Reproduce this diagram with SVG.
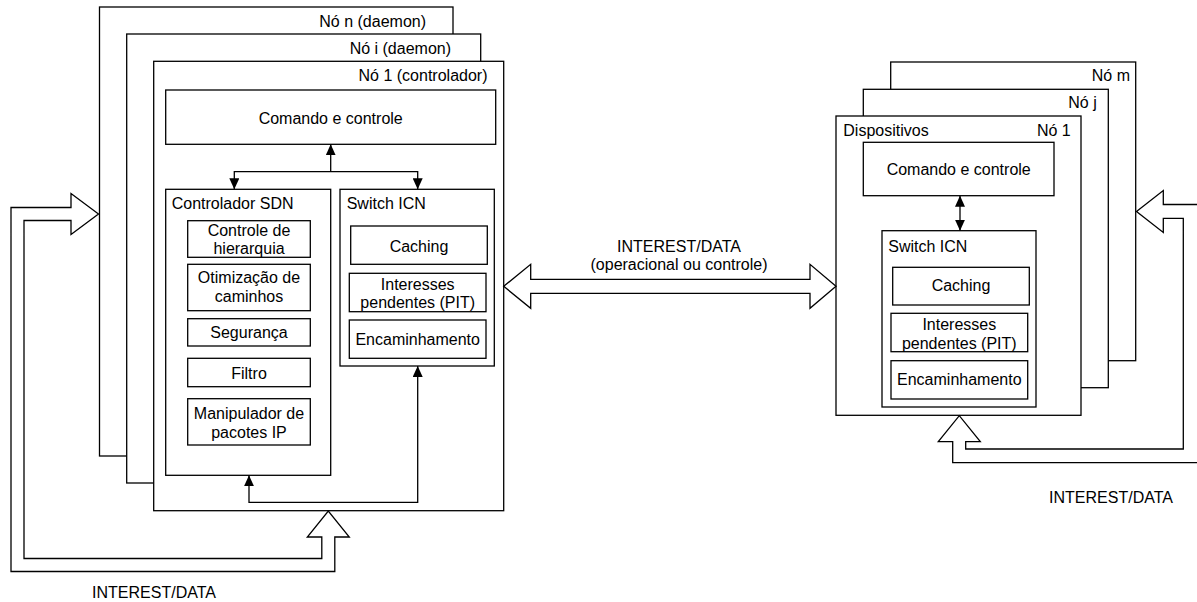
<svg xmlns="http://www.w3.org/2000/svg" width="1197" height="602" viewBox="0 0 1197 602">
<style>
.b{fill:#fff;stroke:#000;stroke-width:1.3}
.t{font-family:"Liberation Sans",Arial,sans-serif;font-size:16px;fill:#000}
.c{text-anchor:middle}
.e{text-anchor:end}
.l{fill:none;stroke:#000;stroke-width:1.3}
.f{fill:#fff;stroke:#000;stroke-width:1.3;stroke-linejoin:miter}
</style>
<defs>
<marker id="ah" markerUnits="userSpaceOnUse" viewBox="0 0 11 10" markerWidth="11" markerHeight="10" refX="11" refY="5" orient="auto-start-reverse">
<path d="M0,0 L11,5 L0,10 Z" fill="#000"/>
</marker>
</defs>
<rect width="1197" height="602" fill="#fff"/>

<g id="left-node-n">
<rect class="b" x="99.5" y="7" width="353.5" height="449"/>
<text class="t e" x="426" y="26.5">Nó n (daemon)</text>
</g>
<g id="left-node-i">
<rect class="b" x="126.7" y="34" width="354" height="449"/>
<text class="t e" x="451" y="54">Nó i (daemon)</text>
</g>
<g id="left-node-1">
<rect class="b" x="153.7" y="61.3" width="350" height="449.4"/>
<text class="t e" x="487.5" y="81">Nó 1 (controlador)</text>
</g>
<g id="left-comando">
<rect class="b" x="165.7" y="90" width="330" height="54.3"/>
<text class="t c" x="330.7" y="123.5">Comando e controle</text>
</g>
<g id="left-sdn">
<rect class="b" x="165.7" y="189.3" width="165" height="286"/>
<text class="t" x="171.7" y="209.3">Controlador SDN</text>
</g>
<g id="left-sdn-hierarquia">
<rect class="b" x="187.7" y="220.7" width="122.6" height="36.6"/>
<text class="t c" x="249" y="236">Controle de</text>
<text class="t c" x="249" y="253.5">hierarquia</text>
</g>
<g id="left-sdn-otimizacao">
<rect class="b" x="187.7" y="264.3" width="122.6" height="46.4"/>
<text class="t c" x="249" y="283.3">Otimização de</text>
<text class="t c" x="249" y="301.7">caminhos</text>
</g>
<g id="left-sdn-seguranca">
<rect class="b" x="187.7" y="318.7" width="122.6" height="27.3"/>
<text class="t c" x="249" y="338">Segurança</text>
</g>
<g id="left-sdn-filtro">
<rect class="b" x="187.7" y="358.3" width="122.6" height="28.4"/>
<text class="t c" x="249" y="378.5">Filtro</text>
</g>
<g id="left-sdn-manipulador">
<rect class="b" x="187.7" y="398.7" width="122.6" height="46.3"/>
<text class="t c" x="249" y="418.7">Manipulador de</text>
<text class="t c" x="249" y="437.5">pacotes IP</text>
</g>
<g id="left-switch">
<rect class="b" x="340" y="189.3" width="154.3" height="176.7"/>
<text class="t" x="346.7" y="209.3">Switch ICN</text>
</g>
<g id="left-switch-caching">
<rect class="b" x="350.7" y="226" width="136.6" height="38.3"/>
<text class="t c" x="419" y="251.5">Caching</text>
</g>
<g id="left-switch-pit">
<rect class="b" x="349.3" y="273.3" width="136.7" height="38.4"/>
<text class="t c" x="417.7" y="290">Interesses</text>
<text class="t c" x="417.7" y="308">pendentes (PIT)</text>
</g>
<g id="left-switch-encaminhamento">
<rect class="b" x="349.3" y="320" width="136.7" height="38.3"/>
<text class="t c" x="417.7" y="345">Encaminhamento</text>
</g>

<g id="right-node-m">
<rect class="b" x="890.7" y="62" width="245" height="298.7"/>
<text class="t e" x="1130" y="80.7">Nó m</text>
</g>
<g id="right-node-j">
<rect class="b" x="863.3" y="89.3" width="245" height="298.4"/>
<text class="t e" x="1096.7" y="108.3">Nó j</text>
</g>
<g id="right-node-1">
<rect class="b" x="836" y="116" width="245" height="299.3"/>
<text class="t" x="843.3" y="135.5">Dispositivos</text>
<text class="t e" x="1070.7" y="135.5">Nó 1</text>
</g>
<g id="right-comando">
<rect class="b" x="863.3" y="142.3" width="190.7" height="53.4"/>
<text class="t c" x="958.7" y="175">Comando e controle</text>
</g>
<g id="right-switch">
<rect class="b" x="882" y="230.7" width="154" height="176.3"/>
<text class="t" x="888.3" y="252">Switch ICN</text>
</g>
<g id="right-switch-caching">
<rect class="b" x="892.7" y="267.3" width="136.6" height="37.7"/>
<text class="t c" x="961" y="290.5">Caching</text>
</g>
<g id="right-switch-pit">
<rect class="b" x="891" y="313.3" width="136.7" height="38.4"/>
<text class="t c" x="959.3" y="330">Interesses</text>
<text class="t c" x="959.3" y="348.5">pendentes (PIT)</text>
</g>
<g id="right-switch-encaminhamento">
<rect class="b" x="891" y="360.7" width="136.7" height="38.3"/>
<text class="t c" x="959.3" y="385">Encaminhamento</text>
</g>

<g id="connectors">
<path class="l" d="M330.7,171.7 L330.7,144.3" marker-end="url(#ah)"/>
<path class="l" d="M234.3,189.3 L234.3,171.7 L417.7,171.7 L417.7,189.3" marker-start="url(#ah)" marker-end="url(#ah)"/>
<path class="l" d="M249,475.3 L249,502.3 L417.7,502.3 L417.7,366" marker-start="url(#ah)" marker-end="url(#ah)"/>
<path class="l" d="M960,195.7 L960,230.7" marker-start="url(#ah)" marker-end="url(#ah)"/>
<path class="f" d="M98.5,214 L71,193.5 L71,207.5 L11,207.5 L11,571.5 L334.8,571.5 L334.8,537 L349.3,537 L328.3,511 L307.3,537 L321.8,537 L321.8,558.5 L24,558.5 L24,220.5 L71,220.5 L71,234.5 Z"/>
<path class="f" d="M503.7,286.3 L530.7,264.3 L530.7,279.3 L810,279.3 L810,264.3 L836,286.3 L810,308.3 L810,293.3 L530.7,293.3 L530.7,308.3 Z"/>
<path class="f" d="M1136.5,211.5 L1163.3,190.5 L1163.3,204.5 L1198,204.5 L1198,462.7 L952.7,462.7 L952.7,441.7 L938.3,441.7 L959.3,415.7 L980.3,441.7 L965.7,441.7 L965.7,449 L1183.3,449 L1183.3,218.3 L1163.3,218.3 L1163.3,232.5 Z"/>
<text class="t c" x="679" y="251.7">INTEREST/DATA</text>
<text class="t c" x="679" y="269.5">(operacional ou controle)</text>
<text class="t c" x="154" y="597.5">INTEREST/DATA</text>
<text class="t c" x="1111" y="503">INTEREST/DATA</text>
</g>
</svg>
